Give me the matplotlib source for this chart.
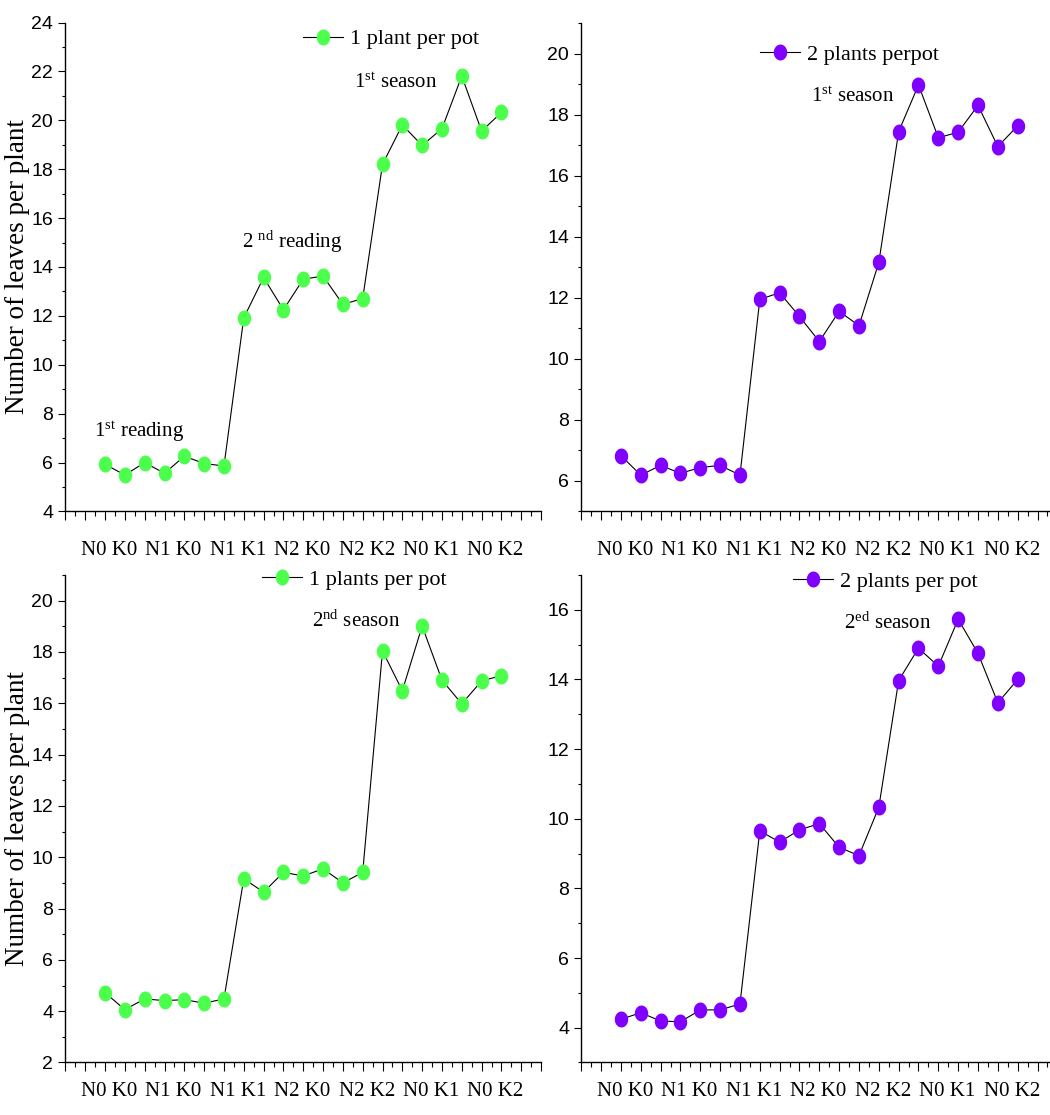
import numpy as np
import matplotlib
matplotlib.use("Agg")
import matplotlib.pyplot as plt
from matplotlib.ticker import MultipleLocator

plt.rcParams['mathtext.fontset'] = 'custom'
plt.rcParams['mathtext.rm'] = 'Liberation Serif'
plt.rcParams['mathtext.it'] = 'Liberation Serif:italic'

# Treatment combinations shown under each x axis
treatments = ["N0 K0", "N1 K0", "N1 K1", "N2 K0", "N2 K2", "N0 K1", "N0 K2"]
treat_pos = [2.2, 5.45, 8.7, 11.95, 15.2, 18.45, 21.7]

# 21 readings: 1st, 2nd and 3rd reading (7 treatments each)
x = np.arange(2, 23)

one_plant_s1 = [5.93, 5.49, 6.00, 5.56, 6.26, 5.96, 5.86,
                11.92, 13.57, 12.25, 13.50, 13.63, 12.47, 12.71,
                18.20, 19.81, 18.97, 19.66, 21.81, 19.56, 20.32]
two_plants_s1 = [6.83, 6.19, 6.51, 6.25, 6.44, 6.51, 6.19,
                 11.95, 12.17, 11.39, 10.57, 11.56, 11.09, 13.16,
                 17.45, 18.98, 17.25, 17.43, 18.31, 16.96, 17.64]
one_plant_s2 = [4.72, 4.06, 4.48, 4.41, 4.45, 4.31, 4.48,
                9.16, 8.64, 9.41, 9.27, 9.55, 9.00, 9.41,
                18.04, 16.49, 19.01, 16.90, 15.98, 16.87, 17.08]
two_plants_s2 = [4.24, 4.43, 4.19, 4.17, 4.51, 4.51, 4.68,
                 9.65, 9.33, 9.68, 9.86, 9.18, 8.94, 10.33,
                 13.97, 14.90, 14.38, 15.73, 14.75, 13.33, 14.00]

green = '#4DFF4D'
purple = '#8000FF'

# slightly tall ellipse marker
t = np.linspace(0, 2 * np.pi, 40)
ellipse = np.column_stack([0.84 * np.cos(t), np.sin(t)])

serif = 'Liberation Serif'
sans = ['Liberation Sans Narrow', 'Liberation Sans']

fig = plt.figure(figsize=(10.5, 11.15), dpi=100)
ax_tl = fig.add_axes([0.0623, 0.5413, 0.453, 0.4385])
ax_tr = fig.add_axes([0.5536, 0.5413, 0.4464, 0.4378])
ax_bl = fig.add_axes([0.0623, 0.0471, 0.453, 0.4372])
ax_br = fig.add_axes([0.5536, 0.0471, 0.4464, 0.4372])


def draw_panel(ax, y, color, label, ylim, ymajor, xmax, leg_xy, lab_off):
    ax.plot(x, y, color='black', lw=0.8, marker=ellipse, markersize=11.5,
            markerfacecolor=color, markeredgewidth=0, label=label)
    ax.set_xlim(0, xmax)
    ax.set_ylim(*ylim)
    ax.yaxis.set_minor_locator(MultipleLocator(1))
    ax.set_yticks(ymajor)
    ax.xaxis.set_major_locator(MultipleLocator(1))
    ax.xaxis.set_minor_locator(MultipleLocator(0.5))
    ax.set_xticklabels([])
    for side in ['top', 'right']:
        ax.spines[side].set_visible(False)
    for side in ['left', 'bottom']:
        ax.spines[side].set_linewidth(1.0)
    ax.tick_params(axis='y', which='major', length=4.8, width=0.8, pad=4)
    ax.tick_params(axis='y', which='minor', length=2.4, width=0.8)
    ax.tick_params(axis='x', which='major', length=6.5, width=0.8)
    ax.tick_params(axis='x', which='minor', length=3.6, width=0.8)
    for lbl in ax.get_yticklabels():
        lbl.set_family(sans)
        lbl.set_fontsize(14)
    for p, name in zip(treat_pos, treatments):
        ax.text(p, lab_off, name, transform=ax.get_xaxis_transform(),
                ha='center', va='baseline', family=serif, fontsize=15)
    ax.legend(loc='center left', bbox_to_anchor=leg_xy, frameon=False,
              handlelength=1.8, handletextpad=0.3, borderpad=0,
              borderaxespad=0, numpoints=1,
              prop={'family': serif, 'size': 16})


draw_panel(ax_tl, one_plant_s1, green, '1 plant per pot', (4, 24),
           np.arange(4, 25, 2), 24, (0.4996, 0.966), -0.090)
draw_panel(ax_tr, two_plants_s1, purple, '2 plants perpot', (5, 21),
           np.arange(6, 21, 2), 23.63, (0.381, 0.936), -0.090)
draw_panel(ax_bl, one_plant_s2, green, '1 plants per pot', (2, 21),
           np.arange(2, 21, 2), 24, (0.413, 0.991), -0.068)
draw_panel(ax_br, two_plants_s2, purple, '2 plants per pot', (3, 17),
           np.arange(4, 17, 2), 23.63, (0.452, 0.986), -0.068)

note = dict(ha='center', va='baseline', family=serif, fontsize=15)
ax_tl.text(3.74, 7.03, r'1$^{\mathrm{st}}$ reading', **note)
ax_tl.text(11.43, 14.78, r'2 $^{\mathrm{nd}}$ reading', **note)
ax_tl.text(16.65, 21.34, r'1$^{\mathrm{st}}$ season', **note)
ax_tr.text(13.70, 18.43, r'1$^{\mathrm{st}}$ season', **note)
ax_bl.text(14.65, 18.97, r'2$^{\mathrm{nd}}$ season', **note)
ax_br.text(15.45, 15.45, r'2$^{\mathrm{ed}}$ season', **note)

for ax in (ax_tl, ax_bl):
    ax.set_ylabel('Number of leaves per plant', family=serif, fontsize=19.5)
    ax.yaxis.set_label_coords(-0.074, 0.5)

fig.savefig('out.png', dpi=100)
